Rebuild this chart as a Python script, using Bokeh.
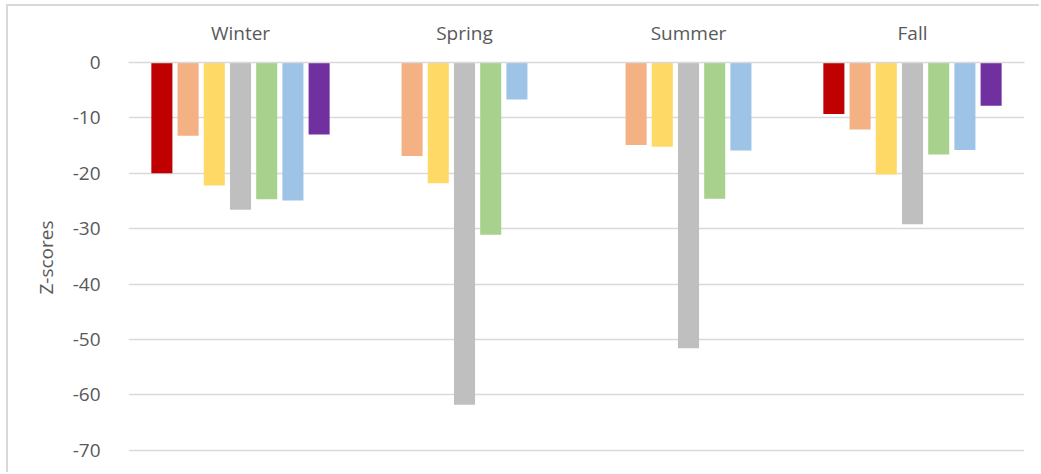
import math
from bokeh.plotting import figure
from bokeh.models import ColumnDataSource, FixedTicker, Range1d, CustomJSTickFormatter
from bokeh.transform import dodge
from bokeh.embed import file_html
from bokeh.resources import INLINE

seasons = ["Winter", "Spring", "Summer", "Fall"]
nan = float("nan")
series_1 = [-20.0, nan, nan, -9.3]
series_2 = [-13.2, -16.9, -14.9, -12.1]
series_3 = [-22.2, -21.8, -15.2, -20.2]
series_4 = [-26.6, -61.8, -51.6, -29.2]
series_5 = [-24.7, -31.1, -24.6, -16.6]
series_6 = [-24.9, -6.7, -15.9, -15.8]
series_7 = [-13.0, nan, nan, -7.8]
y_ticks = [0, -10, -20, -30, -40, -50, -60, -70]

all_series = [series_1, series_2, series_3, series_4, series_5, series_6, series_7]
colors = ["#c00000", "#f4b183", "#ffd966", "#bfbfbf", "#a9d18e", "#9dc3e6", "#7030a0"]

data = {"season": seasons}
for i, s in enumerate(all_series):
    data[f"s{i}"] = s
source = ColumnDataSource(data)

FONT = "Open Sans"
TXT = "#595959"
GRID = "#d9d9d9"
FS = "19px"

# canvas starts at x=8, y=6 (margin + border)
p = figure(width=1033, height=468, x_range=seasons, y_range=Range1d(-70.4, 0),
           x_axis_location="above", output_backend="svg", toolbar_location=None,
           min_border_left=120, min_border_right=17, min_border_top=56, min_border_bottom=22,
           styles={"margin-left": "6px", "margin-top": "4px",
                   "border-left": "2px solid #d9d9d9", "border-top": "2px solid #d9d9d9"})
p.x_range.range_padding = 0
p.outline_line_color = None

step = 0.117
bw = 0.094
for i in range(7):
    p.vbar(x=dodge("season", (i - 3) * step, range=p.x_range), top=f"s{i}", bottom=0,
           width=bw, source=source, fill_color=colors[i], line_color=None)

p.yaxis.ticker = FixedTicker(ticks=y_ticks)
p.yaxis.formatter = CustomJSTickFormatter(code="return tick.toFixed(0);")
p.yaxis.axis_label = "Z-scores"
p.yaxis.axis_label_text_font = FONT
p.yaxis.axis_label_text_font_style = "normal"
p.yaxis.axis_label_text_font_size = FS
p.yaxis.axis_label_text_color = TXT
p.yaxis.axis_label_standoff = 11
p.yaxis.major_label_text_font = FONT
p.yaxis.major_label_text_font_size = FS
p.yaxis.major_label_text_color = TXT
p.yaxis.major_label_standoff = 22
p.yaxis.axis_line_color = None
p.yaxis.major_tick_line_color = None
p.yaxis.minor_tick_line_color = None

p.xaxis.major_label_text_font = FONT
p.xaxis.major_label_text_font_size = FS
p.xaxis.major_label_text_color = TXT
p.xaxis.major_label_standoff = 11
p.xaxis.axis_line_color = GRID
p.xaxis.axis_line_width = 1.5
p.xaxis.major_tick_line_color = None
p.xaxis.minor_tick_line_color = None

p.xgrid.grid_line_color = None
p.ygrid.grid_line_color = GRID
p.ygrid.grid_line_width = 1.5

open("out.html", "w").write(file_html(p, INLINE))
